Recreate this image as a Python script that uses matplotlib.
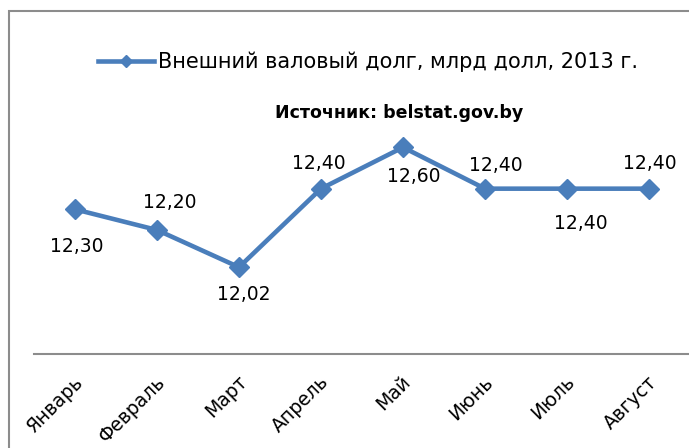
import matplotlib
matplotlib.use("Agg")
import matplotlib.pyplot as plt
import matplotlib.transforms as mtransforms
from matplotlib.patches import Rectangle

months = ["Январь", "Февраль", "Март", "Апрель", "Май", "Июнь", "Июль", "Август"]
debt = [12.30, 12.20, 12.02, 12.40, 12.60, 12.40, 12.40, 12.40]
value_labels = ["12,30", "12,20", "12,02", "12,40", "12,60", "12,40", "12,40", "12,40"]
# label offsets in pixels (dx, dy)
label_offsets = [(2, -37), (13, 28), (5, -27), (-2, 25), (11, -29), (11, 23), (14, -35), (1, 25)]

BLUE = "#4a7ebb"
GRAY = "#8c8c8c"
W, H = 689, 448

fig = plt.figure(figsize=(W / 100, H / 100), dpi=100)
fig.patch.set_facecolor("white")

# chart border (only left and top visible, the rest is cropped)
fig.add_artist(Rectangle((9 / W, -0.1), 1.2, 1 - 11 / H + 0.1, transform=fig.transFigure,
                         fill=False, edgecolor=GRAY, linewidth=1.5))

ax = fig.add_axes([34 / W, 1 - 354 / H, 656 / W, 248 / H])
x = list(range(len(months)))
line, = ax.plot(x, debt, color=BLUE, linewidth=3.3, marker="D", markersize=10,
                markerfacecolor=BLUE, markeredgecolor=BLUE,
                label="Внешний валовый долг, млрд долл, 2013 г.")

ax.set_xlim(-0.5, len(months) - 0.5)
ax.set_ylim(11.6, 12.8)

for xi, yi, txt, (dx, dy) in zip(x, debt, value_labels, label_offsets):
    ax.annotate(txt, (xi, yi), xytext=(dx, dy), textcoords="offset pixels",
                ha="center", va="center", fontsize=13.5, color="black")

for s in ["top", "right", "left"]:
    ax.spines[s].set_visible(False)
ax.spines["bottom"].set_color(GRAY)
ax.spines["bottom"].set_linewidth(1.5)
ax.set_yticks([])
ax.set_xticks(x)
ax.set_xticklabels(months, rotation=45, ha="right", va="center",
                   rotation_mode="anchor", fontsize=13.5)
ax.tick_params(axis="x", length=0, pad=18)
shift = mtransforms.ScaledTranslation(5 / 100, 0, fig.dpi_scale_trans)
for lbl in ax.get_xticklabels():
    lbl.set_transform(lbl.get_transform() + shift)
ax.patch.set_alpha(0)

fig.legend(handles=[line], loc="center", bbox_to_anchor=(368 / W, 1 - 62 / H),
           frameon=False, fontsize=15, handlelength=2.7, handletextpad=0.2,
           markerscale=0.65)

fig.text(399 / W, 1 - 113 / H, "Источник: belstat.gov.by", ha="center", va="center",
         fontsize=12.5, fontweight="bold")

fig.savefig("out.png", dpi=100, facecolor="white")
